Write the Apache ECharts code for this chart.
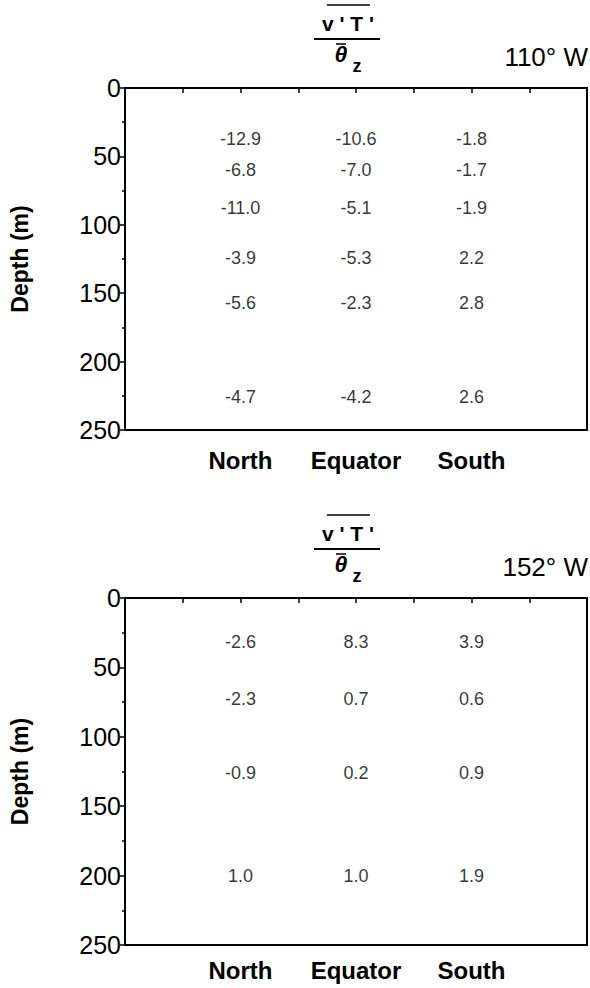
<!DOCTYPE html>
<html><head><meta charset="utf-8">
<script src="https://cdn.jsdelivr.net/npm/echarts@6/dist/echarts.min.js"></script>
<style>html,body{margin:0;padding:0;background:#fff}#c{width:590px;height:988px}</style>
</head><body><div id="c"></div>
<script>
// ---- data ----
const categories = ['North', 'Equator', 'South'];
const depthTicks = [0, 50, 100, 150, 200, 250];
const panelTitles = ['110° W', '152° W'];
// 110° W
const depths110 = [37, 60, 88, 124, 157, 226];
const north110 = [-12.9, -6.8, -11.0, -3.9, -5.6, -4.7];
const equator110 = [-10.6, -7.0, -5.1, -5.3, -2.3, -4.2];
const south110 = [-1.8, -1.7, -1.9, 2.2, 2.8, 2.6];
// 152° W
const depths152 = [32, 73, 126, 200];
const north152 = [-2.6, -2.3, -0.9, 1.0];
const equator152 = [8.3, 0.7, 0.2, 1.0];
const south152 = [3.9, 0.6, 0.9, 1.9];

const FONT = '"Liberation Sans", Arial, Helvetica, sans-serif';
const chart = echarts.init(document.getElementById('c'), null, {renderer: 'svg'});

const grids = [
  {left: 124, right: 2, top: 88, height: 342},
  {left: 124, right: 2, top: 598, height: 347}
];

function cellData(depths, cols) {
  const out = [];
  cols.forEach((col, ci) => {
    col.forEach((v, ri) => out.push([2 * (ci + 1), depths[ri], v]));
  });
  return out;
}
const panelData = [
  cellData(depths110, [north110, equator110, south110]),
  cellData(depths152, [north152, equator152, south152])
];

const xAxes = grids.map((g, i) => ({
  gridIndex: i, type: 'value', min: 0, max: 2 * (categories.length + 1), interval: 1,
  axisLine: {show: true, lineStyle: {color: '#000', width: 2}},
  axisTick: {show: true, inside: false, length: 5, lineStyle: {color: '#000', width: 1.5}},
  splitLine: {show: false},
  axisLabel: {
    show: true, margin: i === 0 ? 18 : 13, color: '#000', fontFamily: FONT, fontWeight: 'bold', fontSize: 24,
    formatter: v => {
      const k = v / 2 - 1;
      return (Number.isInteger(k) && k >= 0 && k < categories.length) ? categories[k] : '';
    }
  }
}));

const yAxes = grids.map((g, i) => ({
  gridIndex: i, type: 'value', inverse: true,
  min: depthTicks[0], max: depthTicks[depthTicks.length - 1], interval: depthTicks[1] - depthTicks[0],
  name: 'Depth (m)', nameLocation: 'middle', nameRotate: 90, nameGap: 94,
  nameTextStyle: {color: '#000', fontFamily: FONT, fontWeight: 'bold', fontSize: 23},
  axisLine: {show: true, lineStyle: {color: '#000', width: 2}},
  axisTick: {show: true, inside: false, length: 5, lineStyle: {color: '#000', width: 1.5}},
  minorTick: {show: true, splitNumber: 2, length: 3, lineStyle: {color: '#000', width: 1.5}},
  splitLine: {show: false},
  axisLabel: {show: true, margin: 4, color: '#000', fontFamily: FONT, fontSize: 25}
}));

const series = panelData.map((d, i) => ({
  type: 'scatter', xAxisIndex: i, yAxisIndex: i, data: d,
  symbolSize: 1, itemStyle: {color: 'rgba(0,0,0,0)'},
  label: {show: true, position: 'inside', color: '#000', textBorderWidth: 0, fontFamily: FONT, fontSize: 18,
    formatter: p => p.value[2].toFixed(1)},
  silent: true
}));

const graphic = [];
grids.forEach((g, i) => {
  const T = g.top, cx = 347, right = 590 - g.right;
  graphic.push(
    {type: 'text', style: {text: "v ' T '", x: cx + 1, y: T - 65, textAlign: 'center', textVerticalAlign: 'middle',
      fill: '#000', font: 'bold 21px ' + FONT}},
    {type: 'line', shape: {x1: cx - 20, y1: T - 83, x2: cx + 23, y2: T - 83}, style: {stroke: '#000', lineWidth: 1.5}},
    {type: 'line', shape: {x1: cx - 33, y1: T - 49, x2: cx + 33, y2: T - 49}, style: {stroke: '#000', lineWidth: 2}},
    {type: 'text', style: {text: 'θ', x: cx - 6, y: T - 34, textAlign: 'center', textVerticalAlign: 'middle',
      fill: '#000', font: 'italic bold 23px ' + FONT}},
    {type: 'line', shape: {x1: cx - 11, y1: T - 44, x2: cx - 1, y2: T - 44}, style: {stroke: '#000', lineWidth: 1.5}},
    {type: 'text', style: {text: 'z', x: cx + 10, y: T - 22, textAlign: 'center', textVerticalAlign: 'middle',
      fill: '#000', font: 'bold 18px ' + FONT}},
    {type: 'text', style: {text: panelTitles[i], x: right, y: T - 31, textAlign: 'right', textVerticalAlign: 'middle',
      fill: '#000', font: '26px ' + FONT}}
  );
});

chart.setOption({
  backgroundColor: '#fff',
  animation: false,
  grid: grids.map(g => Object.assign({show: true, borderColor: '#000', borderWidth: 2, backgroundColor: 'transparent'}, g)),
  xAxis: xAxes,
  yAxis: yAxes,
  series: series,
  graphic: graphic
});
</script>
</body></html>
